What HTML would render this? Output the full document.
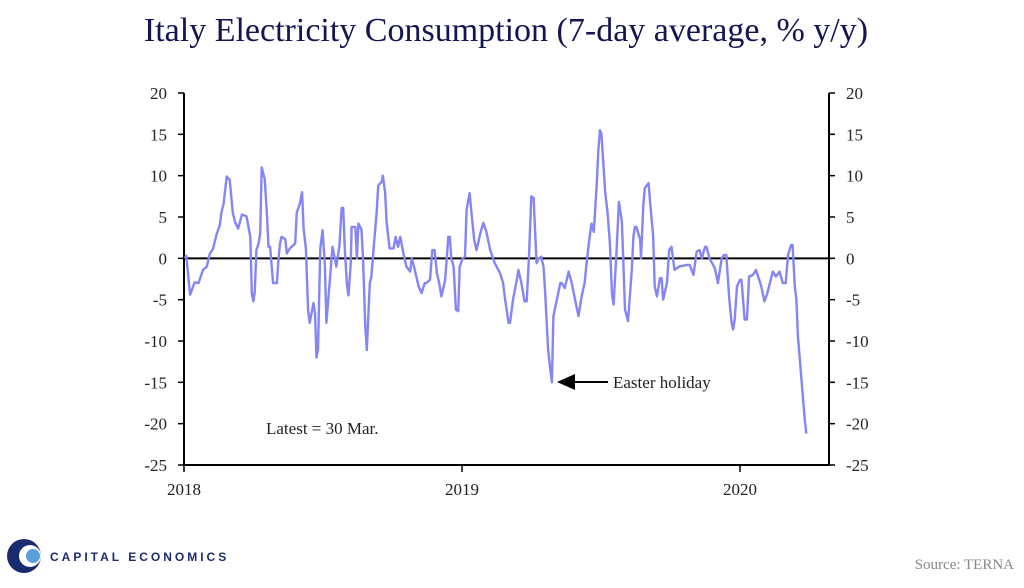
<!DOCTYPE html>
<html><head><meta charset="utf-8"><style>
body{margin:0;width:1024px;height:583px;background:#fff;overflow:hidden;font-family:"Liberation Serif",serif}
</style></head><body>
<svg width="1024" height="583" xmlns="http://www.w3.org/2000/svg">
<text x="506" y="41" text-anchor="middle" font-size="34" fill="#141452" font-family="Liberation Serif, serif">Italy Electricity Consumption (7-day average, % y/y)</text>
<g id="axes"></g>
<g id="series"></g>
<text x="266" y="434" font-size="17" fill="#222" font-family="Liberation Serif, serif">Latest = 30 Mar.</text>
<g>
<line x1="608" y1="382" x2="572" y2="382" stroke="#000" stroke-width="2"/>
<polygon points="557,382 575,374 575,390" fill="#000"/>
<text x="613" y="388" font-size="17" fill="#222">Easter holiday</text>
</g>
<g>
<circle cx="24" cy="556" r="17" fill="#1c2a6e"/>
<circle cx="30" cy="556" r="11" fill="#fff"/>
<circle cx="33" cy="556" r="7" fill="#5aa0d8"/>
<text x="50" y="561" font-size="12" letter-spacing="3" fill="#1c2a6e" font-family="Liberation Sans, sans-serif" font-weight="bold">CAPITAL ECONOMICS</text>
</g>
<text x="1014" y="569" text-anchor="end" font-size="15" fill="#888">Source: TERNA</text>
</svg>
<script>
const days=[1,3,8,14,19,25,30,34,38,43,47,49,52,56,60,64,67,71,76,82,87,89,91,93,95,98,100,102,106,109,111,113,117,122,124,126,128,133,135,139,146,148,152,155,157,160,163,165,170,172,174,176,179,182,185,187,192,195,198,200,204,207,209,211,214,216,219,220,225,227,229,233,235,238,240,244,246,249,253,255,260,261,264,266,270,275,278,281,284,288,292,297,299,302,308,312,316,318,323,326,329,332,335,338,343,347,349,351,354,357,360,362,366,369,371,375,378,381,384,389,393,397,402,408,415,419,421,426,428,432,437,439,443,447,450,453,456,459,463,466,469,472,474,478,480,483,485,494,496,500,505,509,513,518,522,526,529,532,535,538,542,544,546,548,553,556,559,562,564,568,571,575,579,583,588,590,592,594,599,600,603,605,610,612,616,618,621,625,627,629,634,637,640,644,650,660,664,669,673,677,680,684,686,690,697,701,706,709,712,716,719,721,723,726,730,732,736,739,742,747,751,758,762,766,773,777,782,786,790,793,797,799,802,804,806,810,812,815,817,819,820];
const values=[0,0.3,-4.4,-2.9,-3,-1.4,-1,0.6,1.1,3,4,5.5,6.6,9.9,9.5,5.6,4.4,3.6,5.3,5.1,2.6,-4.2,-5.2,-4,1,1.8,3,11,9.6,5.2,1.4,1.4,-3,-3,-0.2,1.8,2.6,2.3,0.6,1.2,1.8,5.5,6.6,8,3.6,1.2,-6.3,-7.8,-5.4,-6.6,-12,-11,1.2,3.4,-0.9,-7.8,-2.1,1.4,0,-1,1.5,6.1,6.1,1.4,-3.3,-4.5,-0.5,3.8,3.8,0,4.2,3.5,0,-8.3,-11.1,-3,-2.2,1.2,5.6,8.8,9.3,10,8,4.4,1.2,1.2,2.6,1.4,2.6,0.6,-1,-1.6,0,-1,-3.4,-4.2,-3,-3,-2.6,1,1,-1.8,-3,-4.6,-2.6,2.6,2.6,0,-1,-6.2,-6.4,-1,0,0.2,5.9,7.9,5,2.2,1,3,4.3,3.2,1,-0.6,-1.8,-3,-4.6,-7.8,-7.8,-5,-2.6,-1.4,-3,-5.2,-5.2,0.2,7.5,7.3,-0.6,0,0.2,-1,-3.8,-11,-12.7,-15,-7,-3,-3,-3.6,-1.6,-3,-4.8,-7,-4.6,-3,-0.2,2.2,4.2,3.2,9.1,13,15.5,15.1,8,5.6,2,-4.4,-5.6,1,6.8,4.4,-6.2,-7.6,-1.4,2.6,3.8,3.8,2.2,0,6.4,8.5,9.1,6.8,2.6,-3.4,-4.6,-2.4,-2.4,-5,-3,1,1.4,-1.4,-1,-0.8,-0.8,-2,0.8,1,0,1.4,1.4,0,-1.2,-3,0,0.4,0.4,-5,-7.8,-8.6,-7.4,-3.4,-2.6,-2.6,-7.4,-7.4,-2.2,-2,-1.4,-3.4,-5.2,-4.2,-1.6,-2.2,-1.6,-3,-3,0.4,1.6,1.6,-3.4,-5,-9.4,-13.8,-16.2,-19.4,-21.2];
const yTicks=[20,15,10,5,0,-5,-10,-15,-20,-25];
const xTickLabels=["2018","2019","2020"];
const X0=184,X1=829,PXY=278,YTOP=93,YBOT=465;
function xs(d){return X0+d*PXY/365;}
function ys(v){return YTOP+(20-v)*(YBOT-YTOP)/45;}
const NS="http://www.w3.org/2000/svg";
function mk(tag,attrs,parent){const e=document.createElementNS(NS,tag);for(const k in attrs)e.setAttribute(k,attrs[k]);parent.appendChild(e);return e;}
const ax=document.getElementById('axes');
let l=mk('line',{x1:X0,y1:YTOP,x2:X0,y2:YBOT,stroke:'#000','stroke-width':2},ax);


l=mk('line',{x1:X1,y1:YTOP,x2:X1,y2:YBOT,stroke:'#000','stroke-width':2},ax);


l=mk('line',{x1:X0,y1:YBOT,x2:X1,y2:YBOT,stroke:'#000','stroke-width':2},ax);


l=mk('line',{x1:X0,y1:ys(0),x2:X1,y2:ys(0),stroke:'#000','stroke-width':2},ax);


yTicks.forEach(v=>{
 const y=ys(v);
 mk('line',{x1:X0-6,y1:y,x2:X0,y2:y,stroke:'#000','stroke-width':1.5},ax);
 mk('line',{x1:X1,y1:y,x2:X1+6,y2:y,stroke:'#000','stroke-width':1.5},ax);
 let t=mk('text',{x:X0-17,y:y+6,'text-anchor':'end','font-size':17,fill:'#222'},ax);t.textContent=v;
 
 
 t=mk('text',{x:X1+17,y:y+6,'text-anchor':'start','font-size':17,fill:'#222'},ax);t.textContent=v;
 
 
});
xTickLabels.forEach((s,i)=>{
 const x=X0+i*PXY;
 mk('line',{x1:x,y1:YBOT,x2:x,y2:YBOT+7,stroke:'#000','stroke-width':1.5},ax);
 const t=mk('text',{x:x,y:YBOT+30,'text-anchor':'middle','font-size':17,fill:'#222'},ax);t.textContent=s;
 
 
});
const n=Math.min(days.length,values.length);
const pts=[];
for(let i=0;i<n;i++)pts.push(xs(days[i]).toFixed(1)+','+ys(values[i]).toFixed(1));
const pl=mk('polyline',{points:pts.join(' '),fill:'none',stroke:'#8585f5','stroke-width':2.4,'stroke-linejoin':'round'},document.getElementById('series'));


</script>
</body></html>
